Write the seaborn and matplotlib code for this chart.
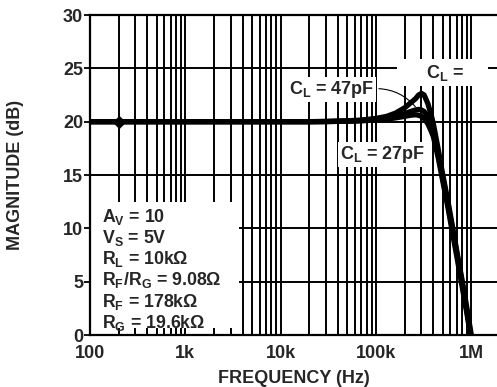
import matplotlib
matplotlib.use("Agg")
import numpy as np
import pandas as pd
import matplotlib.pyplot as plt
from matplotlib.patches import Rectangle
import seaborn as sns

# values
freq_hz = [100, 1e3, 1e4, 2e4, 3e4, 5e4, 7e4, 1e5, 1.3e5, 1.6e5, 2e5, 2.3e5,
           2.6e5, 2.8e5, 3e5, 3.2e5, 3.5e5, 3.8e5, 4e5, 4.5e5, 5e5, 5.7e5,
           6.4e5, 7.2e5, 8.1e5, 9e5, 1e6]
gain_cl_top = [20, 20, 20, 20, 20.02, 20.08, 20.15, 20.3, 20.5, 20.8, 21.3, 21.75,
               22.15, 22.5, 22.65, 22.5, 21.7, 20.6, 19.8, 17.4, 15.1, 12.5,
               10.0, 7.4, 4.9, 2.5, 0.0]
gain_cl_47pf = [20, 20, 20, 20, 20.01, 20.05, 20.1, 20.2, 20.35, 20.5, 20.75, 20.95,
                21.1, 21.15, 21.1, 20.95, 20.5, 19.8, 19.2, 17.0, 14.8, 12.2,
                9.7, 7.2, 4.6, 2.2, -0.3]
gain_cl_27pf = [20, 20, 20, 20, 20.01, 20.04, 20.08, 20.15, 20.25, 20.35, 20.5, 20.6,
                20.65, 20.6, 20.5, 20.3, 19.8, 19.1, 18.6, 16.6, 14.5, 11.9,
                9.4, 6.9, 4.3, 2.0, -0.5]
load_names = ["C_L top", "C_L = 47pF", "C_L = 27pF"]
marker_freq = [200]
marker_gain = [20]

x_ticks = [100, 1e3, 1e4, 1e5, 1e6]
x_ticklabels = ["100", "1k", "10k", "100k", "1M"]
y_ticks = [0, 5, 10, 15, 20, 25, 30]

conditions = [
    r"A$_\mathregular{V}$ = 10",
    r"V$_\mathregular{S}$ = 5V",
    r"R$_\mathregular{L}$ = 10kΩ",
    r"R$_\mathregular{F}$/R$_\mathregular{G}$ = 9.08Ω",
    r"R$_\mathregular{F}$ = 178kΩ",
    r"R$_\mathregular{G}$ = 19.6kΩ",
]

sns.set_style("white")
plt.rcParams["font.family"] = ["Liberation Sans", "DejaVu Sans"]
plt.rcParams["font.weight"] = "bold"
plt.rcParams["mathtext.fontset"] = "custom"
plt.rcParams["mathtext.rm"] = "Liberation Sans:bold"
plt.rcParams["mathtext.bf"] = "Liberation Sans:bold"

df = pd.concat([
    pd.DataFrame({"freq": freq_hz, "gain": g, "load": name})
    for name, g in zip(load_names, [gain_cl_top, gain_cl_47pf, gain_cl_27pf])
])

fig = plt.figure(figsize=(4.97, 3.87), dpi=100)
ax = fig.add_axes([90 / 497, 52 / 387, 410 / 497, 320 / 387])
ax.set_xscale("log")

sns.lineplot(data=df, x="freq", y="gain", hue="load", palette=["black"] * 3,
             estimator=None, sort=False, lw=3.8, legend=False, ax=ax, zorder=4)
sns.scatterplot(x=marker_freq, y=marker_gain, marker="D", s=40, color="black",
                edgecolor="black", ax=ax, zorder=5)

ax.set_xlim(100, 2e6)
ax.set_ylim(0, 30)
ax.set_xticks(x_ticks)
ax.set_xticklabels(x_ticklabels)
ax.set_yticks(y_ticks)
ax.tick_params(axis="x", which="both", length=0, pad=7.5, labelsize=13)
ax.tick_params(axis="y", length=4, width=1.3, pad=1, labelsize=13, direction="out",
               color="black", left=True)
ax.set_axisbelow(True)
ax.grid(True, axis="x", which="both", color="black", lw=1.4)
ax.grid(True, axis="y", which="major", color="black", lw=1.4)
for side in ["left", "bottom", "top"]:
    ax.spines[side].set_color("black")
    ax.spines[side].set_linewidth(1.6)
ax.spines["right"].set_visible(False)

ax.set_xlabel("FREQUENCY (Hz)", fontsize=13, fontweight="bold")
ax.set_ylabel("MAGNITUDE (dB)", fontsize=13, fontweight="bold")
ax.xaxis.set_label_coords(0.4976, -0.11)
ax.yaxis.set_label_coords(-0.16, 0.5)

# test conditions box
ax.add_patch(Rectangle((0.003, 0.022), 0.36, 0.394, transform=ax.transAxes,
                       facecolor="white", edgecolor="none", zorder=1))
baselines = [0.354, 0.288, 0.222, 0.156, 0.088, 0.023]
for txt, yb in zip(conditions, baselines):
    ax.text(0.029, yb, txt, transform=ax.transAxes, fontsize=12.8, fontweight="bold",
            va="baseline", ha="left", zorder=3)

box = dict(facecolor="white", edgecolor="none", pad=1.5)
ax.annotate(r"C$_\mathregular{L}$ = 47pF", xy=(2.7e5, 21.2), xytext=(3.4e4, 23.0),
            fontsize=13, fontweight="bold", ha="center", va="center", bbox=box,
            arrowprops=dict(arrowstyle="-", color="black", lw=0.8,
                            connectionstyle="arc3,rad=-0.25", relpos=(1, 0.55)),
            zorder=3)
ax.text(1.18e5, 16.9, r"C$_\mathregular{L}$ = 27pF", fontsize=13, fontweight="bold",
        ha="center", va="center", bbox=box, zorder=3)
ax.text(5.0e5, 24.6, r"     C$_\mathregular{L}$ =     ", fontsize=13, fontweight="bold",
        ha="center", va="center", bbox=dict(facecolor="white", edgecolor="none", pad=2.5),
        zorder=3)

fig.savefig("out.png", dpi=100)
